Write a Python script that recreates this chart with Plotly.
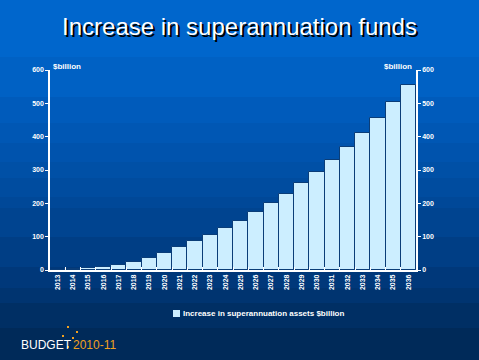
import plotly.graph_objects as go

years = [str(y) for y in range(2013, 2037)]
assets = [1, 3, 7, 10, 16, 25, 36, 52, 69, 87, 106, 126, 147, 174, 201, 228,
          261, 294, 330, 369, 411, 455, 503, 555]
y_ticks = [0, 100, 200, 300, 400, 500, 600]

title_text = "Increase in superannuation funds"
legend_name = "Increase in superannuation assets $billion"
unit_label = "$billion"

W, H = 479, 360
L, R, T, B = 50, 63, 70, 90
PW, PH = W - L - R, H - T - B

def px(x):
    return (x - L) / PW

def py(y):
    return (H - B - y) / PH

# background bands (pixel y boundaries, colour)
bands = [(0, 57, "#0066CC"), (57, 97, "#0061C4"), (97, 123, "#005BBB"),
         (123, 143, "#0057B4"), (143, 162, "#0053AD"), (162, 178, "#0050A6"),
         (178, 197, "#004C9F"), (197, 208, "#004898"), (208, 237, "#004490"),
         (237, 267, "#003E85"), (267, 288, "#00387A"), (288, 303, "#003470"),
         (303, 328, "#002F64"), (328, 360, "#002A59")]

shapes = []
for y0, y1, c in bands:
    shapes.append(dict(type="rect", xref="paper", yref="paper",
                       x0=px(0), x1=px(W), y0=py(y1), y1=py(y0),
                       fillcolor=c, line=dict(width=0), layer="below"))

# logo dots
for dx, dy in [(68, 327), (77, 332), (63, 336), (73, 338), (68, 347)]:
    shapes.append(dict(type="rect", xref="paper", yref="paper",
                       x0=px(dx - 1), x1=px(dx + 1), y0=py(dy + 1), y1=py(dy - 1),
                       fillcolor="#F0A020", line=dict(width=0)))

# legend swatch
shapes.append(dict(type="rect", xref="paper", yref="paper",
                   x0=px(173), x1=px(180), y0=py(317), y1=py(310),
                   fillcolor="#CCEEFF", line=dict(width=0)))

fig = go.Figure()
fig.add_trace(go.Bar(x=years, y=assets, name=legend_name, showlegend=False,
                     marker=dict(color="#CCEEFF", line=dict(color="#0A3D78", width=1))))
fig.add_trace(go.Scatter(x=years, y=assets, yaxis="y2", mode="lines",
                         line=dict(width=0), showlegend=False, hoverinfo="skip"))

tickfont = dict(family="Liberation Sans, Arial", size=7, color="white", weight="bold")
lblfont = dict(family="Liberation Sans, Arial", size=8, color="white", weight="bold")

fig.update_layout(
    width=W, height=H,
    margin=dict(l=L, r=R, t=T, b=B, autoexpand=False),
    paper_bgcolor="#002A59",
    plot_bgcolor="rgba(0,0,0,0)",
    bargap=0,
    shapes=shapes,
    showlegend=False,
    title=dict(text=title_text, x=0.5, xanchor="center", xref="container",
               y=1 - 27 / H, yref="container", yanchor="middle",
               font=dict(family="Liberation Sans, Arial", size=24, color="white",
                         shadow="2px 2px 0px #000000")),
    xaxis=dict(type="category", tickangle=-90, tickfont=tickfont,
               showline=True, linecolor="white", linewidth=1.5,
               ticks="inside", ticklen=3, tickcolor="white", tickson="boundaries",
               showgrid=False, zeroline=False, automargin=False),
    yaxis=dict(range=[0, 600], tickvals=y_ticks, tickfont=tickfont,
               showline=True, linecolor="white", linewidth=1.5,
               ticks="outside", ticklen=3, tickcolor="white",
               showgrid=False, zeroline=False, automargin=False),
    yaxis2=dict(range=[0, 600], tickvals=y_ticks, tickfont=tickfont,
                overlaying="y", side="right",
                showline=True, linecolor="white", linewidth=1.5,
                ticks="outside", ticklen=3, tickcolor="white",
                showgrid=False, zeroline=False, automargin=False),
    annotations=[
        dict(text=legend_name, xref="paper", yref="paper", x=px(181), y=py(313),
             xanchor="left", yanchor="middle", showarrow=False, font=lblfont),
        dict(text=unit_label, xref="paper", yref="paper", x=px(51), y=py(66),
             xanchor="left", yanchor="middle", showarrow=False, font=lblfont),
        dict(text=unit_label, xref="paper", yref="paper", x=px(414), y=py(66),
             xanchor="right", yanchor="middle", showarrow=False, font=lblfont),
        dict(text="BUDGET", xref="paper", yref="paper", x=px(19), y=py(345),
             xanchor="left", yanchor="middle", showarrow=False,
             font=dict(family="Liberation Sans, Arial", size=12, color="white")),
        dict(text="2010-11", xref="paper", yref="paper", x=px(71), y=py(345),
             xanchor="left", yanchor="middle", showarrow=False,
             font=dict(family="Liberation Sans, Arial", size=12, color="#F0A020")),
    ],
)

fig.write_html("out.html", config={"displayModeBar": False},
               post_script="document.body.style.margin='0';document.body.style.overflow='hidden';")
